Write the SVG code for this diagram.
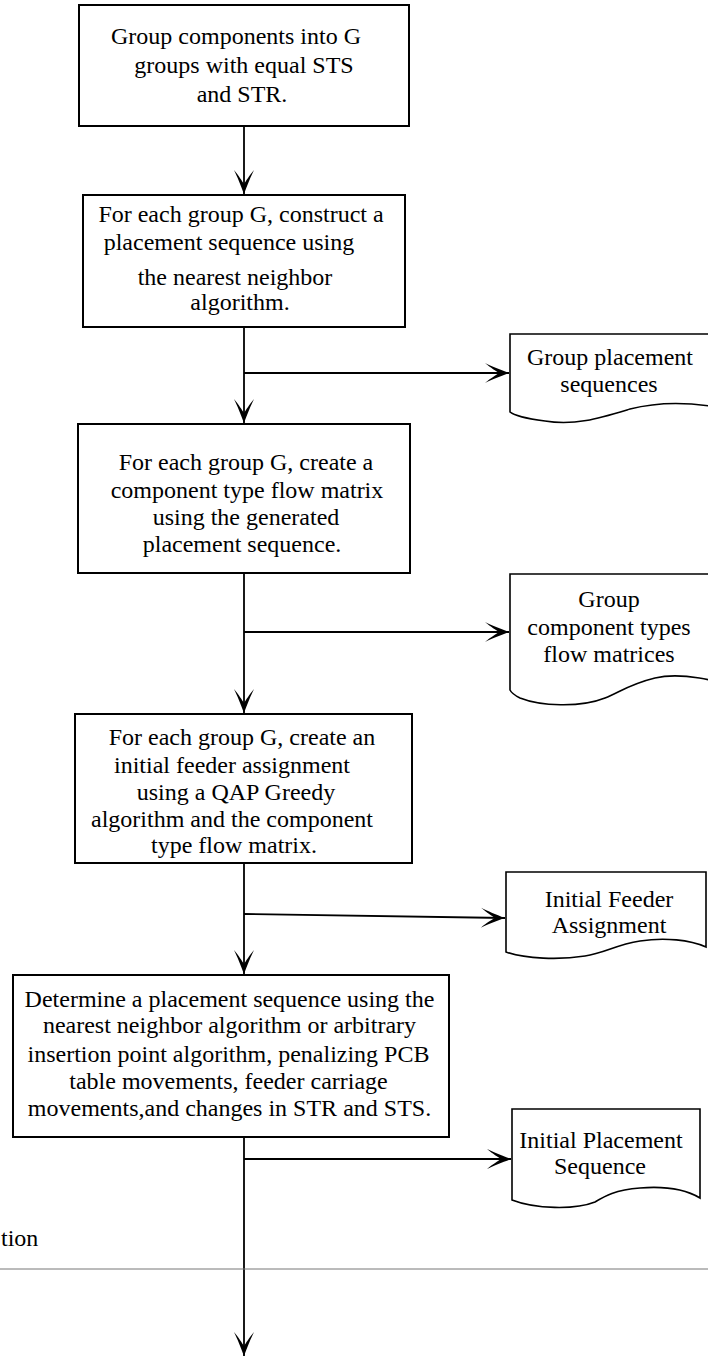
<svg xmlns="http://www.w3.org/2000/svg" width="708" height="1356" viewBox="0 0 708 1356">
  <style>
    .box { fill: #fff; stroke: #000; stroke-width: 2; }
    .doc { fill: #fff; stroke: #000; stroke-width: 1.6; }
    .lbl { font-family: "Liberation Serif", "Times New Roman", serif; font-size: 24px; fill: #000; text-anchor: middle; }
    .edge { fill: none; stroke: #000; stroke-width: 1.8; }
  </style>
  <defs>
    <marker id="arrow" markerUnits="userSpaceOnUse" orient="auto" refX="0" refY="0" markerWidth="30" markerHeight="24" viewBox="-26 -12 28 24" overflow="visible">
      <path d="M0,0 C-8,-3 -18,-7 -24,-10 C-18,-5 -13,-2 -10,0 C-13,2 -18,5 -24,10 C-18,7 -8,3 0,0 Z" fill="#000"/>
    </marker>
  </defs>
  <rect width="708" height="1356" fill="#fff"/>

  <!-- connectors -->
  <g id="connectors">
    <line class="edge" x1="244" y1="126" x2="244" y2="194" marker-end="url(#arrow)"/>
    <line class="edge" x1="244" y1="327" x2="244" y2="423" marker-end="url(#arrow)"/>
    <line class="edge" x1="244" y1="373" x2="509" y2="373" marker-end="url(#arrow)"/>
    <line class="edge" x1="244" y1="573" x2="244" y2="713" marker-end="url(#arrow)"/>
    <line class="edge" x1="244" y1="632" x2="509" y2="632" marker-end="url(#arrow)"/>
    <line class="edge" x1="244" y1="863" x2="244" y2="974" marker-end="url(#arrow)"/>
    <line class="edge" x1="244" y1="914" x2="505" y2="918" marker-end="url(#arrow)"/>
    <line class="edge" x1="244" y1="1134" x2="244" y2="1356" marker-end="url(#arrow)"/>
    <line class="edge" x1="244" y1="1159" x2="511" y2="1159" marker-end="url(#arrow)"/>
  </g>

  <!-- process steps -->
  <g id="step-group">
    <rect class="box" x="79" y="5" width="330" height="121"/>
    <text class="lbl" x="236" y="44">Group components into G</text>
    <text class="lbl" x="244" y="73">groups with equal STS</text>
    <text class="lbl" x="242" y="102">and STR.</text>
  </g>

  <g id="step-sequence">
    <rect class="box" x="83" y="195" width="322" height="132"/>
    <text class="lbl" x="241" y="222">For each group G, construct a</text>
    <text class="lbl" x="229" y="250">placement sequence using</text>
    <text class="lbl" x="235" y="285">the nearest neighbor</text>
    <text class="lbl" x="240" y="310">algorithm.</text>
  </g>

  <g id="step-flow-matrix">
    <rect class="box" x="78" y="424" width="332" height="149"/>
    <text class="lbl" x="246" y="470">For each group G, create a</text>
    <text class="lbl" x="247" y="498">component type flow matrix</text>
    <text class="lbl" x="246" y="525">using the generated</text>
    <text class="lbl" x="242" y="552">placement sequence.</text>
  </g>

  <g id="step-feeder">
    <rect class="box" x="75" y="714" width="337" height="149"/>
    <text class="lbl" x="242" y="745">For each group G, create an</text>
    <text class="lbl" x="232" y="773">initial feeder assignment</text>
    <text class="lbl" x="236" y="800">using a QAP Greedy</text>
    <text class="lbl" x="232" y="827">algorithm and the component</text>
    <text class="lbl" x="234" y="853">type flow matrix.</text>
  </g>

  <g id="step-placement">
    <rect class="box" x="13" y="975" width="436" height="162"/>
    <text class="lbl" x="229.5" y="1007">Determine a placement sequence using the</text>
    <text class="lbl" x="229.5" y="1033">nearest neighbor algorithm or arbitrary</text>
    <text class="lbl" x="228.5" y="1062">insertion point algorithm, penalizing PCB</text>
    <text class="lbl" x="228.5" y="1089">table movements, feeder carriage</text>
    <text class="lbl" x="229.5" y="1116">movements,and changes in STR and STS.</text>
  </g>

  <!-- output documents -->
  <g id="doc-group-sequences">
    <path class="doc" d="M510,412 V334 H740 V412 C700,402 665,400 630,409 C600,418 575,426 545,421 C525,418 515,416 510,412 Z"/>
    <text class="lbl" x="610" y="365">Group placement</text>
    <text class="lbl" x="609" y="392">sequences</text>
  </g>

  <g id="doc-flow-matrices">
    <path class="doc" d="M510,690 V574 H740 V690 C720,680 680,672 655,678 C630,684 620,692 605,698 C580,708 540,706 520,698 C514,695 511,692 510,690 Z"/>
    <text class="lbl" x="609" y="607">Group</text>
    <text class="lbl" x="609" y="635">component types</text>
    <text class="lbl" x="609" y="662">flow matrices</text>
  </g>

  <g id="doc-feeder-assignment">
    <path class="doc" d="M506,952 V872 H706 V947 C690,940 665,937 640,941 C615,945 605,953 585,956 C560,960 525,959 506,952 Z"/>
    <text class="lbl" x="609" y="907">Initial Feeder</text>
    <text class="lbl" x="609" y="933">Assignment</text>
  </g>

  <g id="doc-placement-sequence">
    <path class="doc" d="M512,1200 V1109 H700 V1198 C685,1189 665,1186 640,1188 C615,1190 605,1196 595,1202 C575,1210 535,1209 512,1200 Z"/>
    <text class="lbl" x="601" y="1148">Initial Placement</text>
    <text class="lbl" x="600" y="1174">Sequence</text>
  </g>

  <!-- label and separator at the foot of the page -->
  <text class="lbl" x="1" y="1246" style="text-anchor: start">tion</text>
  <line x1="0" y1="1269" x2="708" y2="1269" stroke="#777" stroke-width="1"/>
</svg>
